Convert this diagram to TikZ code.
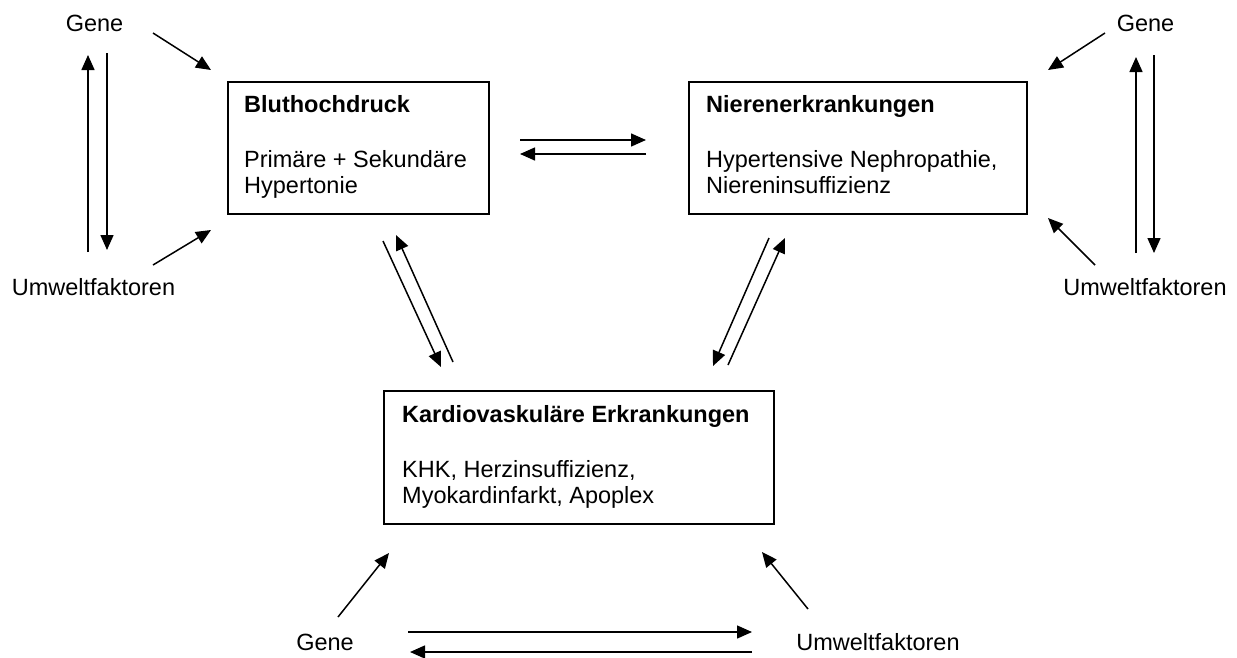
\documentclass[tikz,border=0pt]{standalone}
\usepackage{fontspec}
\setmainfont{Liberation Sans}
\usetikzlibrary{arrows.meta}
\begin{document}
\begin{tikzpicture}[x=1pt,y=-1pt,
  box/.style={draw=black, line width=1.6pt, inner sep=0pt, anchor=north west},
  txt/.style={inner sep=0pt, anchor=base west, font=\fontsize{23.5}{27}\selectfont},
  lbl/.style={inner sep=0pt, anchor=base, font=\fontsize{23.5}{27}\selectfont},
  arr/.style={line width=1.5pt, -{Triangle[length=15pt,width=13pt]}}]
\useasboundingbox (0,0) rectangle (1237,657);
% boxes
\node[box, minimum width=261pt, minimum height=132pt] (bd) at (227,81) {};
\node[box, minimum width=338pt, minimum height=132pt] (ne) at (688,81) {};
\node[box, minimum width=390pt, minimum height=133pt] (kv) at (383,390) {};
% box texts
\node[txt] (bd1) at (244,112) {\textbf{Bluthochdruck}};
\node[txt] (bd2) at (244,167) {Primäre + Sekundäre};
\node[txt] (bd3) at (244,193) {Hypertonie};
\node[txt] (ne1) at (706,112) {\textbf{Nierenerkrankungen}};
\node[txt] (ne2) at (706,167) {Hypertensive Nephropathie,};
\node[txt] (ne3) at (706,193) {Niereninsuffizienz};
\node[txt] (kv1) at (402,422) {\textbf{Kardiovaskuläre Erkrankungen}};
\node[txt] (kv2) at (402,477) {KHK, Herzinsuffizienz,};
\node[txt] (kv3) at (402,503) {Myokardinfarkt, Apoplex};
% labels
\node[lbl] (gL) at (94.5,31) {Gene};
\node[lbl] (uL) at (93.5,295) {Umweltfaktoren};
\node[lbl] (gR) at (1145.5,31) {Gene};
\node[lbl] (uR) at (1145,295) {Umweltfaktoren};
\node[lbl] (gB) at (325,650) {Gene};
\node[lbl] (uB) at (878,650) {Umweltfaktoren};
% arrow end points
\coordinate (aL1s) at (88,252);  \coordinate (aL1e) at (88,55);
\coordinate (aL2s) at (107,53);  \coordinate (aL2e) at (107,250);
\coordinate (aL3s) at (153,33);  \coordinate (aL3e) at (211,70);
\coordinate (aL4s) at (153,265); \coordinate (aL4e) at (211,230);
\coordinate (aR1s) at (1136,253); \coordinate (aR1e) at (1136,57);
\coordinate (aR2s) at (1154,55);  \coordinate (aR2e) at (1154,253);
\coordinate (aR3s) at (1105,33);  \coordinate (aR3e) at (1048,70);
\coordinate (aR4s) at (1095,265); \coordinate (aR4e) at (1048,218);
\coordinate (h1s) at (520,140); \coordinate (h1e) at (646,140);
\coordinate (h2s) at (646,154); \coordinate (h2e) at (520,154);
\coordinate (d1s) at (383,241); \coordinate (d1e) at (441,367);
\coordinate (d2s) at (453,362); \coordinate (d2e) at (396,235);
\coordinate (d3s) at (769,238); \coordinate (d3e) at (713,366);
\coordinate (d4s) at (728,365); \coordinate (d4e) at (785,238);
\coordinate (b1s) at (338,617); \coordinate (b1e) at (389,553);
\coordinate (b2s) at (808,609); \coordinate (b2e) at (762,552);
\coordinate (b3s) at (408,632); \coordinate (b3e) at (752,632);
\coordinate (b4s) at (752,652); \coordinate (b4e) at (410,652);
% arrows
\foreach \a in {aL1,aL2,aL3,aL4,aR1,aR2,aR3,aR4,h1,h2,d1,d2,d3,d4,b1,b2,b3,b4}
  \draw[arr] (\a s) -- (\a e);
\end{tikzpicture}
\end{document}
